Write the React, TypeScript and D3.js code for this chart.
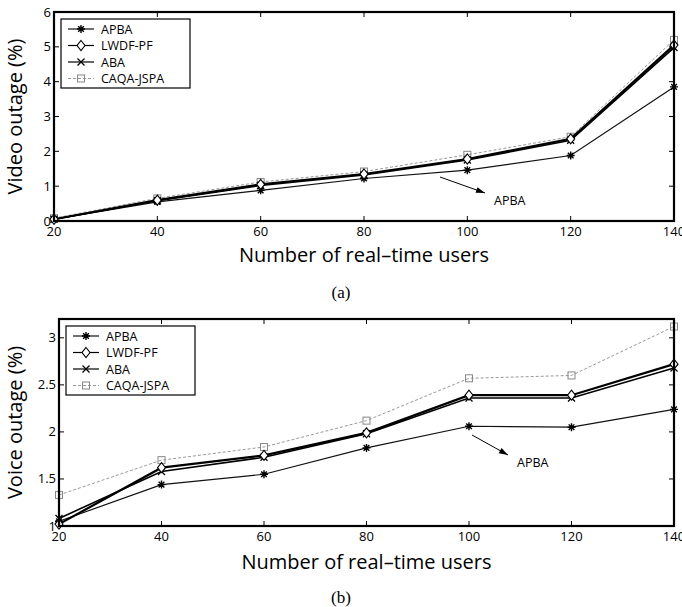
import React, { useRef, useEffect } from "react";
import * as d3 from "d3";

const users = [20, 40, 60, 80, 100, 120, 140];
const seriesNames = ["APBA", "LWDF-PF", "ABA", "CAQA-JSPA"];

const videoApba = [0.05, 0.55, 0.88, 1.22, 1.46, 1.88, 3.85];
const videoLwdf = [0.05, 0.6, 1.05, 1.35, 1.78, 2.36, 5.05];
const videoAba = [0.05, 0.58, 1.02, 1.32, 1.75, 2.32, 4.98];
const videoCaqa = [0.08, 0.65, 1.12, 1.42, 1.9, 2.42, 5.2];

const voiceApba = [1.05, 1.44, 1.55, 1.83, 2.06, 2.05, 2.24];
const voiceLwdf = [1.02, 1.62, 1.75, 1.99, 2.39, 2.39, 2.72];
const voiceAba = [1.08, 1.58, 1.73, 1.98, 2.36, 2.36, 2.68];
const voiceCaqa = [1.33, 1.7, 1.84, 2.12, 2.57, 2.6, 3.12];

const videoTicks = [0, 1, 2, 3, 4, 5, 6];
const voiceTicks = [1, 1.5, 2, 2.5, 3];

const styles = [
  { stroke: "#111", width: 1.2, dash: null, marker: "star" },
  { stroke: "#000", width: 2.2, dash: null, marker: "diamond" },
  { stroke: "#000", width: 1.6, dash: null, marker: "x" },
  { stroke: "#999", width: 1, dash: "3,2", marker: "square" },
];

const font = "'Open Sans', 'DejaVu Sans', sans-serif";

function drawMarker(g, type, x, y, color) {
  const s = 4;
  if (type === "star") {
    const p = d3.path();
    for (let a = 0; a < 4; a++) {
      const t = (a * Math.PI) / 4;
      p.moveTo(x - s * Math.cos(t), y - s * Math.sin(t));
      p.lineTo(x + s * Math.cos(t), y + s * Math.sin(t));
    }
    g.append("path").attr("d", p.toString()).attr("stroke", color).attr("stroke-width", 1.4);
  } else if (type === "diamond") {
    g.append("path")
      .attr("d", `M${x},${y - 5}L${x + 4},${y}L${x},${y + 5}L${x - 4},${y}Z`)
      .attr("fill", "white").attr("stroke", color).attr("stroke-width", 1.1);
  } else if (type === "x") {
    g.append("path")
      .attr("d", `M${x - 3.5},${y - 3.5}L${x + 3.5},${y + 3.5}M${x - 3.5},${y + 3.5}L${x + 3.5},${y - 3.5}`)
      .attr("stroke", color).attr("stroke-width", 1.3);
  } else {
    g.append("rect").attr("x", x - 3.5).attr("y", y - 3.5).attr("width", 7).attr("height", 7)
      .attr("fill", "none").attr("stroke", color).attr("stroke-width", 1);
  }
}

function panel(svg, cfg) {
  const { left, right, top, bottom, domain, ticks, data, ylabel, caption, xlabelY, captionY, legend, arrow, ylabelX } = cfg;
  const x = d3.scaleLinear().domain([20, 140]).range([left, right]);
  const y = d3.scaleLinear().domain(domain).range([bottom, top]);
  const g = svg.append("g");

  // inward ticks on all four sides
  const tl = 5;
  users.forEach((u) => {
    g.append("line").attr("x1", x(u)).attr("x2", x(u)).attr("y1", bottom).attr("y2", bottom - tl).attr("stroke", "#000");
    g.append("line").attr("x1", x(u)).attr("x2", x(u)).attr("y1", top).attr("y2", top + tl).attr("stroke", "#000");
    g.append("text").attr("x", x(u)).attr("y", bottom + 15).attr("text-anchor", "middle")
      .attr("font-family", font).attr("font-size", 13).text(u);
  });
  ticks.forEach((t) => {
    g.append("line").attr("x1", left).attr("x2", left + tl).attr("y1", y(t)).attr("y2", y(t)).attr("stroke", "#000");
    g.append("line").attr("x1", right).attr("x2", right - tl).attr("y1", y(t)).attr("y2", y(t)).attr("stroke", "#000");
    g.append("text").attr("x", left - 3).attr("y", y(t) + 4.5).attr("text-anchor", "end")
      .attr("font-family", font).attr("font-size", 13).text(t);
  });

  const line = d3.line().x((d, i) => x(users[i])).y((d) => y(d));
  [3, 0, 2, 1].forEach((k) => {
    const st = styles[k];
    g.append("path").datum(data[k]).attr("fill", "none").attr("stroke", st.stroke)
      .attr("stroke-width", st.width).attr("stroke-dasharray", st.dash).attr("d", line);
    data[k].forEach((v, i) => drawMarker(g, st.marker, x(users[i]), y(v), st.stroke === "#999" ? "#888" : "#000"));
  });

  g.append("rect").attr("x", left).attr("y", top).attr("width", right - left).attr("height", bottom - top)
    .attr("fill", "none").attr("stroke", "#000").attr("stroke-width", 2.2);

  // legend
  const lg = g.append("g");
  lg.append("rect").attr("x", legend[0]).attr("y", legend[1]).attr("width", 129).attr("height", 69)
    .attr("fill", "white").attr("stroke", "#000").attr("stroke-width", 1.2);
  seriesNames.forEach((n, k) => {
    const st = styles[k];
    const ly = legend[1] + 10 + k * 16.5;
    lg.append("line").attr("x1", legend[0] + 7).attr("x2", legend[0] + 33).attr("y1", ly).attr("y2", ly)
      .attr("stroke", st.stroke).attr("stroke-width", Math.min(st.width, 1.2)).attr("stroke-dasharray", st.dash);
    drawMarker(lg, st.marker, legend[0] + 20, ly, st.stroke === "#999" ? "#888" : "#000");
    lg.append("text").attr("x", legend[0] + 40).attr("y", ly + 4.5).attr("font-family", font)
      .attr("font-size", 12.5).text(n);
  });

  // annotation arrow
  const [ax1, ay1, ax2, ay2] = arrow;
  g.append("line").attr("x1", ax1).attr("y1", ay1).attr("x2", ax2).attr("y2", ay2).attr("stroke", "#000").attr("stroke-width", 1);
  const ang = Math.atan2(ay2 - ay1, ax2 - ax1);
  const hl = 9, hw = 3;
  const bx = ax2 - hl * Math.cos(ang), by = ay2 - hl * Math.sin(ang);
  g.append("path")
    .attr("d", `M${ax2},${ay2}L${bx - hw * Math.sin(ang)},${by + hw * Math.cos(ang)}L${bx + hw * Math.sin(ang)},${by - hw * Math.cos(ang)}Z`)
    .attr("fill", "#000");
  g.append("text").attr("x", ax2 + 9).attr("y", ay2 + 12).attr("font-family", font).attr("font-size", 12.5).text("APBA");

  g.append("text").attr("transform", `translate(${ylabelX},${(top + bottom) / 2}) rotate(-90)`)
    .attr("text-anchor", "middle").attr("font-family", font).attr("font-size", 20).text(ylabel);
  g.append("text").attr("x", (left + right) / 2).attr("y", xlabelY).attr("text-anchor", "middle")
    .attr("font-family", font).attr("font-size", 20).text("Number of real\u2013time users");
  g.append("text").attr("x", 341).attr("y", captionY).attr("text-anchor", "middle")
    .attr("font-family", "'Liberation Serif', serif").attr("font-size", 17).text(caption);
}

const App = () => {
  const svgRef = useRef(null);

  useEffect(() => {
    const svg = d3.select(svgRef.current);
    svg.selectAll("*").remove();
    panel(svg, {
      left: 54, right: 674, top: 12, bottom: 221, domain: [0, 6], ticks: videoTicks,
      data: [videoApba, videoLwdf, videoAba, videoCaqa], ylabel: "Video outage (%)", caption: "(a)",
      xlabelY: 262, captionY: 298, legend: [61, 19], arrow: [440, 177, 485, 193], ylabelX: 22,
    });
    panel(svg, {
      left: 59, right: 674, top: 319, bottom: 526, domain: [1, 3.2], ticks: voiceTicks,
      data: [voiceApba, voiceLwdf, voiceAba, voiceCaqa], ylabel: "Voice outage (%)", caption: "(b)",
      xlabelY: 569, captionY: 603, legend: [66, 326], arrow: [472, 435, 508, 455], ylabelX: 22,
    });
  }, []);

  return (
    <svg ref={svgRef} width={682} height={607}
      style={{ position: "absolute", left: 0, top: 0, background: "white" }} />
  );
};

export default App;
